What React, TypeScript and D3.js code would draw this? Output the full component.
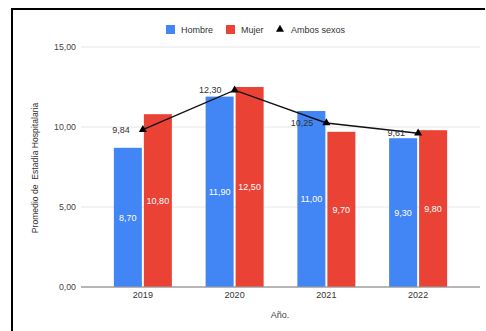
import React from "react";
import * as d3 from "d3";

const years = ["2019", "2020", "2021", "2022"];
const hombre = [8.7, 11.9, 11.0, 9.3];
const mujer = [10.8, 12.5, 9.7, 9.8];
const ambos = [9.84, 12.3, 10.25, 9.61];
const yTicks = [0, 5, 10, 15];
const seriesNames = ["Hombre", "Mujer"];
const seriesColors = ["#4285F4", "#EA4335"];

const W = 486;
const H = 331;
const FONT = "Arial, 'Liberation Sans', Helvetica, sans-serif";

const fmt = (v: number) => v.toFixed(2).replace(".", ",");

export default function App() {
  const y = d3.scaleLinear().domain([0, 15]).range([287, 47]);
  const x = d3.scaleBand<string>().domain(years).range([97, 464]).padding(0);
  const xs = d3
    .scaleBand<string>()
    .domain(seriesNames)
    .range([-29, 29])
    .paddingInner(2 / 30);
  const cx = (yr: string) => (x(yr) as number) + x.bandwidth() / 2;
  const line = d3
    .line<number>()
    .x((_, i) => cx(years[i]))
    .y((d) => y(d));
  const tri = d3.symbol().type(d3.symbolTriangle).size(28)() as string;
  const gridX0 = 81;
  const gridX1 = 480;

  return (
    <svg
      width={W}
      height={H}
      style={{ position: "fixed", left: 0, top: 0, background: "#fff" }}
      fontFamily={FONT}
    >
      <rect x={0} y={0} width={W} height={H} fill="#fff" />
      {/* frame */}
      <line x1={12} y1={9} x2={485} y2={9} stroke="#000" strokeWidth={2} />
      <line x1={12} y1={8} x2={12} y2={H} stroke="#000" strokeWidth={2} />

      {/* gridlines */}
      {yTicks.map((t) => (
        <g key={t}>
          <line
            x1={gridX0}
            x2={gridX1}
            y1={y(t)}
            y2={y(t)}
            stroke={t === 0 ? "#9e9e9e" : "#e6e6e6"}
            strokeWidth={1}
          />
          <text
            x={76}
            y={y(t)}
            dy="0.35em"
            textAnchor="end"
            fontSize={8.8}
            fill="#444"
          >
            {fmt(t)}
          </text>
        </g>
      ))}

      {/* bars */}
      {years.map((yr, i) =>
        [hombre[i], mujer[i]].map((v, j) => {
          const bx = cx(yr) + (xs(seriesNames[j]) as number);
          const top = y(v);
          return (
            <g key={yr + j}>
              <rect
                x={bx}
                y={top}
                width={xs.bandwidth()}
                height={y(0) - top}
                fill={seriesColors[j]}
              />
              <text
                x={bx + xs.bandwidth() / 2}
                y={(top + y(0)) / 2}
                dy="0.35em"
                textAnchor="middle"
                fontSize={9}
                fill="#fff"
              >
                {fmt(v)}
              </text>
            </g>
          );
        })
      )}

      {/* baseline redraw */}
      <line x1={gridX0} x2={gridX1} y1={y(0)} y2={y(0)} stroke="#9e9e9e" />

      {/* line series */}
      <path d={line(ambos) as string} fill="none" stroke="#111" strokeWidth={1.4} />
      {ambos.map((v, i) => (
        <g key={"a" + i}>
          <path
            d={tri}
            transform={`translate(${cx(years[i])},${y(v)})`}
            fill="#000"
          />
          <text
            x={cx(years[i]) - 13}
            y={y(v)}
            dy="0.35em"
            textAnchor="end"
            fontSize={9}
            fill="#333"
          >
            {fmt(v)}
          </text>
        </g>
      ))}

      {/* x labels */}
      {years.map((yr) => (
        <text
          key={yr}
          x={cx(yr)}
          y={295}
          dy="0.35em"
          textAnchor="middle"
          fontSize={9}
          fill="#333"
        >
          {yr}
        </text>
      ))}
      <text x={280} y={315} dy="0.35em" textAnchor="middle" fontSize={9} fill="#444">
        Año.
      </text>
      <text
        transform="translate(35,168) rotate(-90)"
        dy="0.35em"
        textAnchor="middle"
        fontSize={8.6}
        fill="#333"
        style={{ whiteSpace: "pre" }}
      >
        {"Promedio de  Estadía Hospitalaria"}
      </text>

      {/* legend */}
      <g>
        <rect x={166} y={25} width={9} height={9} fill={seriesColors[0]} />
        <text x={181} y={29.5} dy="0.35em" fontSize={9} fill="#333">
          Hombre
        </text>
        <rect x={226} y={25} width={9} height={9} fill={seriesColors[1]} />
        <text x={241} y={29.5} dy="0.35em" fontSize={9} fill="#333">
          Mujer
        </text>
        <path d={tri} transform="translate(280,29.5)" fill="#000" />
        <text x={291} y={29.5} dy="0.35em" fontSize={9} fill="#333">
          Ambos sexos
        </text>
      </g>
    </svg>
  );
}
